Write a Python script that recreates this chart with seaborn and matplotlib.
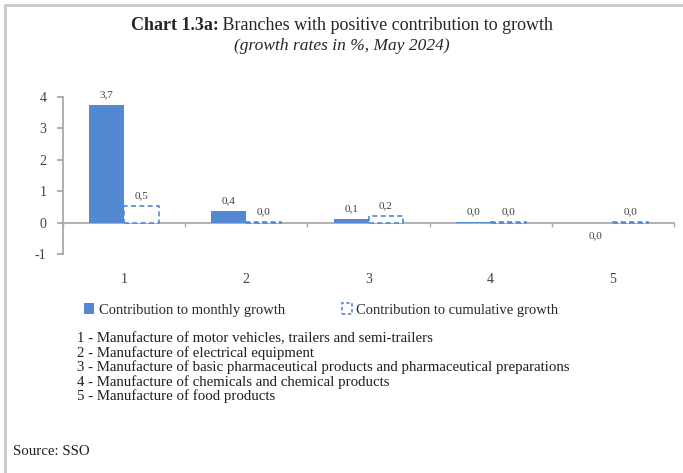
import matplotlib
matplotlib.use("Agg")
import matplotlib.pyplot as plt
import matplotlib.patches as mpatches
import seaborn as sns
import pandas as pd

# data
branches = ["1", "2", "3", "4", "5"]
monthly = [3.74, 0.38, 0.11, 0.01, -0.02]
cumulative = [0.54, 0.03, 0.20, 0.03, 0.03]
series_names = ["Contribution to monthly growth", "Contribution to cumulative growth"]
notes = [
    "1 - Manufacture of motor vehicles, trailers and semi-trailers",
    "2 - Manufacture of electrical equipment",
    "3 - Manufacture of basic pharmaceutical products and pharmaceutical preparations",
    "4 - Manufacture of chemicals and chemical products",
    "5 - Manufacture of food products",
]

df = pd.DataFrame({
    "branch": branches * 2,
    "value": monthly + cumulative,
    "series": [series_names[0]] * 5 + [series_names[1]] * 5,
})

sns.set_theme(style="white")
plt.rcParams["font.family"] = ["Liberation Serif", "DejaVu Serif"]
plt.rcParams["axes.unicode_minus"] = False

blue = "#5389D3"
grey = "#A6A6A6"

fig = plt.figure(figsize=(6.83, 4.73), dpi=100)
W, H = 683, 473
ax = fig.add_axes([63 / W, 1 - 254 / H, (674 - 63) / W, (254 - 97) / H])

sns.barplot(data=df, x="branch", y="value", hue="series", ax=ax,
            palette=[blue, blue], width=0.57, legend=False, saturation=1)

# second series: white boxes with dashed outline
for p in ax.patches[5:10]:
    p.set_facecolor("white")
    p.set_edgecolor(blue)
    p.set_linestyle((0, (3, 2)))
    p.set_linewidth(1.2)
for p in ax.patches[:5]:
    p.set_edgecolor("none")

def fmt(v):
    s = f"{v:.1f}".replace("-0.0", "0.0")
    return s.replace(".", ",")

all_vals = monthly + cumulative
for i, p in enumerate(ax.patches[:10]):
    val = all_vals[i]
    xc = p.get_x() + p.get_width() / 2
    if val < 0:
        ax.annotate(fmt(val), (xc, val), xytext=(0, -6), textcoords="offset points",
                    ha="center", va="top", fontsize=8, color="#404040")
    else:
        ax.annotate(fmt(val), (xc, val), xytext=(0, 4), textcoords="offset points",
                    ha="center", va="bottom", fontsize=8, color="#404040")

ax.set_ylim(-1, 4)
ax.set_xlim(-0.5, 4.5)
ax.set_yticks([-1, 0, 1, 2, 3, 4])
ax.set_xlabel("")
ax.set_ylabel("")

for s in ["top", "right"]:
    ax.spines[s].set_visible(False)
ax.spines["left"].set_color(grey)
ax.spines["bottom"].set_position(("data", 0))
ax.spines["bottom"].set_color(grey)
ax.spines["bottom"].set_zorder(0)

ax.set_xticks([-0.5, 0.5, 1.5, 2.5, 3.5, 4.5], minor=True)
ax.tick_params(axis="x", which="minor", length=3, color=grey, direction="out", bottom=True)
ax.tick_params(axis="x", which="major", length=0, pad=36, labelsize=10, colors="#404040")
ax.tick_params(axis="y", length=4, color=grey, direction="out", left=True, pad=8,
               labelsize=10, labelcolor="#404040")

# title: bold prefix + regular remainder, centred together
r = fig.canvas.get_renderer()
t1 = fig.text(0, 1 - 25 / H, "Chart 1.3a:", fontsize=13, fontweight="bold", va="center")
t2 = fig.text(0, 1 - 25 / H, " Branches with positive contribution to growth", fontsize=13, va="center")
w1 = t1.get_window_extent(r).width
w2 = t2.get_window_extent(r).width
x0 = (342 - (w1 + w2) / 2)
t1.set_x(x0 / W)
t2.set_x((x0 + w1) / W)
fig.text(342 / W, 1 - 46 / H, "(growth rates in %, May 2024)", fontsize=12.5,
         style="italic", ha="center", va="center")

handles = [
    mpatches.Patch(facecolor=blue, edgecolor="none"),
    mpatches.Patch(facecolor="white", edgecolor=blue, linestyle=(0, (2, 1.5)), linewidth=1.2),
]
fig.legend(handles, series_names, loc="center left", bbox_to_anchor=(84 / W, 1 - 310 / H),
           ncol=2, frameon=False, fontsize=10.5, handlelength=0.7, handleheight=0.7,
           handletextpad=0.3, columnspacing=3.9, borderaxespad=0, borderpad=0)

for i, line in enumerate(notes):
    fig.text(77 / W, 1 - (339 + 14.25 * i) / H, line, fontsize=10.7, va="center", color="#202020")

fig.text(13 / W, 1 - 451 / H, "Source: SSO", fontsize=10.7, va="center", color="#202020")

# grey frame lines at top and left of the page
fig.add_artist(plt.Line2D([5 / W, 1], [1 - 5 / H, 1 - 5 / H], color="#C8C8C8", lw=2))
fig.add_artist(plt.Line2D([5 / W, 5 / W], [1 - 5 / H, 0], color="#C8C8C8", lw=2))

fig.savefig("out.png", dpi=100)
